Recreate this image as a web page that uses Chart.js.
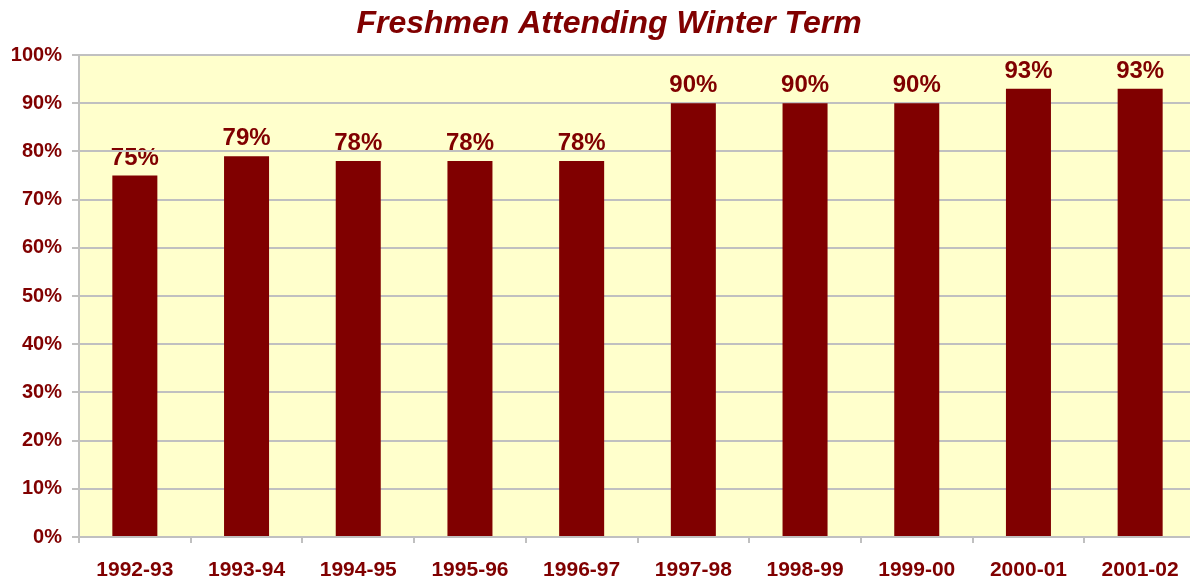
<!DOCTYPE html>
<html>
<head>
<meta charset="utf-8">
<script src="https://cdn.jsdelivr.net/npm/chart.js@4"></script>
<style>
html,body{margin:0;padding:0;background:#fff;overflow:hidden;}
#wrap{width:1190px;height:582px;overflow:hidden;position:relative;}
canvas{display:block;}
</style>
</head>
<body>
<div id="wrap"><canvas id="c" width="1218" height="582"></canvas></div>
<script>
const categories = ['1992-93','1993-94','1994-95','1995-96','1996-97','1997-98','1998-99','1999-00','2000-01','2001-02'];
const values = [75, 79, 78, 78, 78, 90, 90, 90, 93, 93];
const titleText = 'Freshmen Attending Winter Term';

const DARK = '#800000';
const FONT = '"Liberation Sans", Arial, sans-serif';

const bgPlugin = {
  id: 'bg',
  beforeDraw(chart) {
    const {ctx, chartArea: a} = chart;
    ctx.save();
    ctx.fillStyle = '#FFFFCC';
    ctx.fillRect(a.left, a.top, a.right - a.left, a.bottom - a.top);
    // value labels drawn beneath gridlines, as in the reference
    const meta = chart.getDatasetMeta(0);
    ctx.font = 'bold 24px ' + FONT;
    ctx.fillStyle = DARK;
    ctx.textAlign = 'center';
    ctx.textBaseline = 'alphabetic';
    meta.data.forEach((bar, i) => {
      ctx.fillText(values[i] + '%', bar.x, bar.y - 11);
    });
    ctx.restore();
  }
};
const titlePlugin = {
  id: 'ttl',
  afterDraw(chart) {
    const ctx = chart.ctx;
    ctx.save();
    ctx.font = 'italic bold 32px ' + FONT;
    ctx.fillStyle = DARK;
    ctx.textAlign = 'center';
    ctx.textBaseline = 'alphabetic';
    ctx.fillText(titleText, 609, 33);
    ctx.restore();
  }
};

new Chart(document.getElementById('c'), {
  type: 'bar',
  data: {
    labels: categories,
    datasets: [{
      data: values,
      backgroundColor: DARK,
      borderWidth: 0,
      categoryPercentage: 1,
      barPercentage: 0.403
    }]
  },
  options: {
    responsive: false,
    animation: false,
    layout: {padding: {top: 55, right: 22, left: 0, bottom: 0}},
    plugins: {legend: {display: false}, title: {display: false}, tooltip: {enabled: false}},
    scales: {
      x: {
        grid: {display: true, drawOnChartArea: false, drawTicks: true, tickLength: 6, color: '#C0C0C0', lineWidth: 2, offset: true},
        border: {display: true, color: '#C0C0C0', width: 2},
        ticks: {color: DARK, font: {family: FONT, size: 21, weight: 'bold'}, padding: 15, maxRotation: 0, autoSkip: false},
        afterFit(s) { s.height = 45; }
      },
      y: {
        min: 0, max: 100,
        grid: {color: '#C0C0C0', lineWidth: 2, tickLength: 7, drawTicks: true},
        border: {display: true, color: '#C0C0C0', width: 2},
        ticks: {stepSize: 10, color: DARK, font: {family: FONT, size: 20, weight: 'bold'}, padding: 10, callback: v => v + '%'},
        afterFit(s) { s.width = 79; }
      }
    }
  },
  plugins: [bgPlugin, titlePlugin]
});
</script>
</body>
</html>
